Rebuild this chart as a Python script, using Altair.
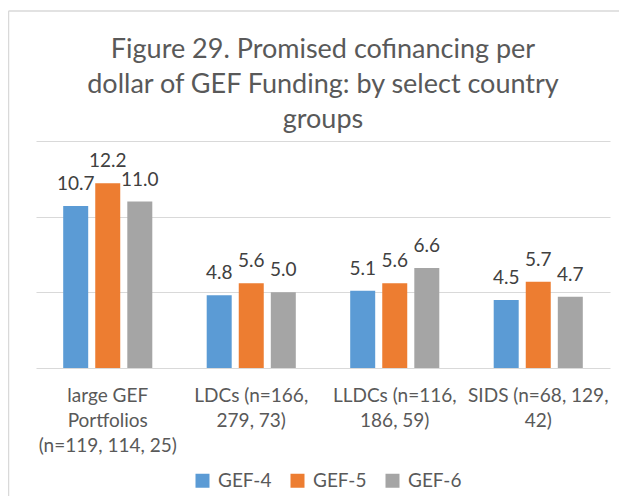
import altair as alt
import pandas as pd

categories = [
    "large GEF\nPortfolios\n(n=119, 114, 25)",
    "LDCs (n=166,\n279, 73)",
    "LLDCs (n=116,\n186, 59)",
    "SIDS (n=68, 129,\n42)",
]
series = ["GEF-4", "GEF-5", "GEF-6"]
gef4 = [10.7, 4.8, 5.1, 4.5]
gef5 = [12.2, 5.6, 5.6, 5.7]
gef6 = [11.0, 5.0, 6.6, 4.7]
colors = ["#5B9BD5", "#ED7D31", "#A5A5A5"]

rows = []
for i, c in enumerate(categories):
    for s, vals in zip(series, [gef4, gef5, gef6]):
        rows.append({"group": c, "series": s, "value": vals[i]})
df = pd.DataFrame(rows)

FONT = "Lato"
TXT = "#595959"

x = alt.X(
    "group:N", sort=categories, title=None,
    scale=alt.Scale(paddingInner=0.33, paddingOuter=0.165),
    axis=alt.Axis(labelAngle=0, domain=False, ticks=False, grid=False,
                  labelExpr="split(datum.label, '\\n')",
                  labelFont=FONT, labelFontSize=19, labelColor=TXT,
                  labelLineHeight=25, labelPadding=18, labelBaseline="top",
                  labelLimit=0),
)
xo = alt.XOffset("series:N", sort=series,
                 scale=alt.Scale(paddingInner=0.22, paddingOuter=0.11))
y = alt.Y(
    "value:Q", scale=alt.Scale(domain=[0, 15]), title=None,
    axis=alt.Axis(values=[0, 5, 10, 15], labels=False, ticks=False,
                  domain=False, grid=True, gridColor="#D9D9D9", gridWidth=1),
)
color = alt.Color(
    "series:N", sort=series,
    scale=alt.Scale(domain=series, range=colors),
    legend=alt.Legend(title=None, orient="none", direction="horizontal",
                      legendX=157, legendY=330, symbolType="square",
                      symbolSize=196, symbolStrokeWidth=0, symbolOpacity=1,
                      labelFont=FONT, labelFontSize=19, labelColor=TXT,
                      labelOffset=6, columnPadding=16),
)

base = alt.Chart(df)
bars = base.mark_bar().encode(x=x, xOffset=xo, y=y, color=color)
labels = base.mark_text(dy=-22, baseline="middle", font=FONT, fontSize=19,
                        color="#404040").encode(
    x=x, xOffset=xo, y=y, text=alt.Text("value:Q", format=".1f"))

top_border = alt.Chart(alt.Data(values=[{}])).mark_rule(
    color="#D9D9D9", strokeWidth=1.5).encode(
    x=alt.value(-27.5), x2=alt.value(800), y=alt.value(-130))
left_border = alt.Chart(alt.Data(values=[{}])).mark_rule(
    color="#D9D9D9", strokeWidth=1.5).encode(
    x=alt.value(-27.5), y=alt.value(-130), y2=alt.value(600))

chart = alt.layer(top_border, left_border, bars, labels).properties(
    width=574, height=227,
    background="white",
    autosize=alt.AutoSizeParams(type="none"),
    padding={"left": 28, "top": 133, "right": 9, "bottom": 128},
    title=alt.TitleParams(
        ["Figure 29. Promised cofinancing per",
         "dollar of GEF Funding: by select country", "groups"],
        font=FONT, fontSize=27, fontWeight="normal", color=TXT,
        lineHeight=35, anchor="middle", offset=8, frame="group", dy=132),
).configure_view(stroke="transparent", strokeWidth=0)

chart.save("out.html", embed_options={"renderer": "svg", "actions": False})
